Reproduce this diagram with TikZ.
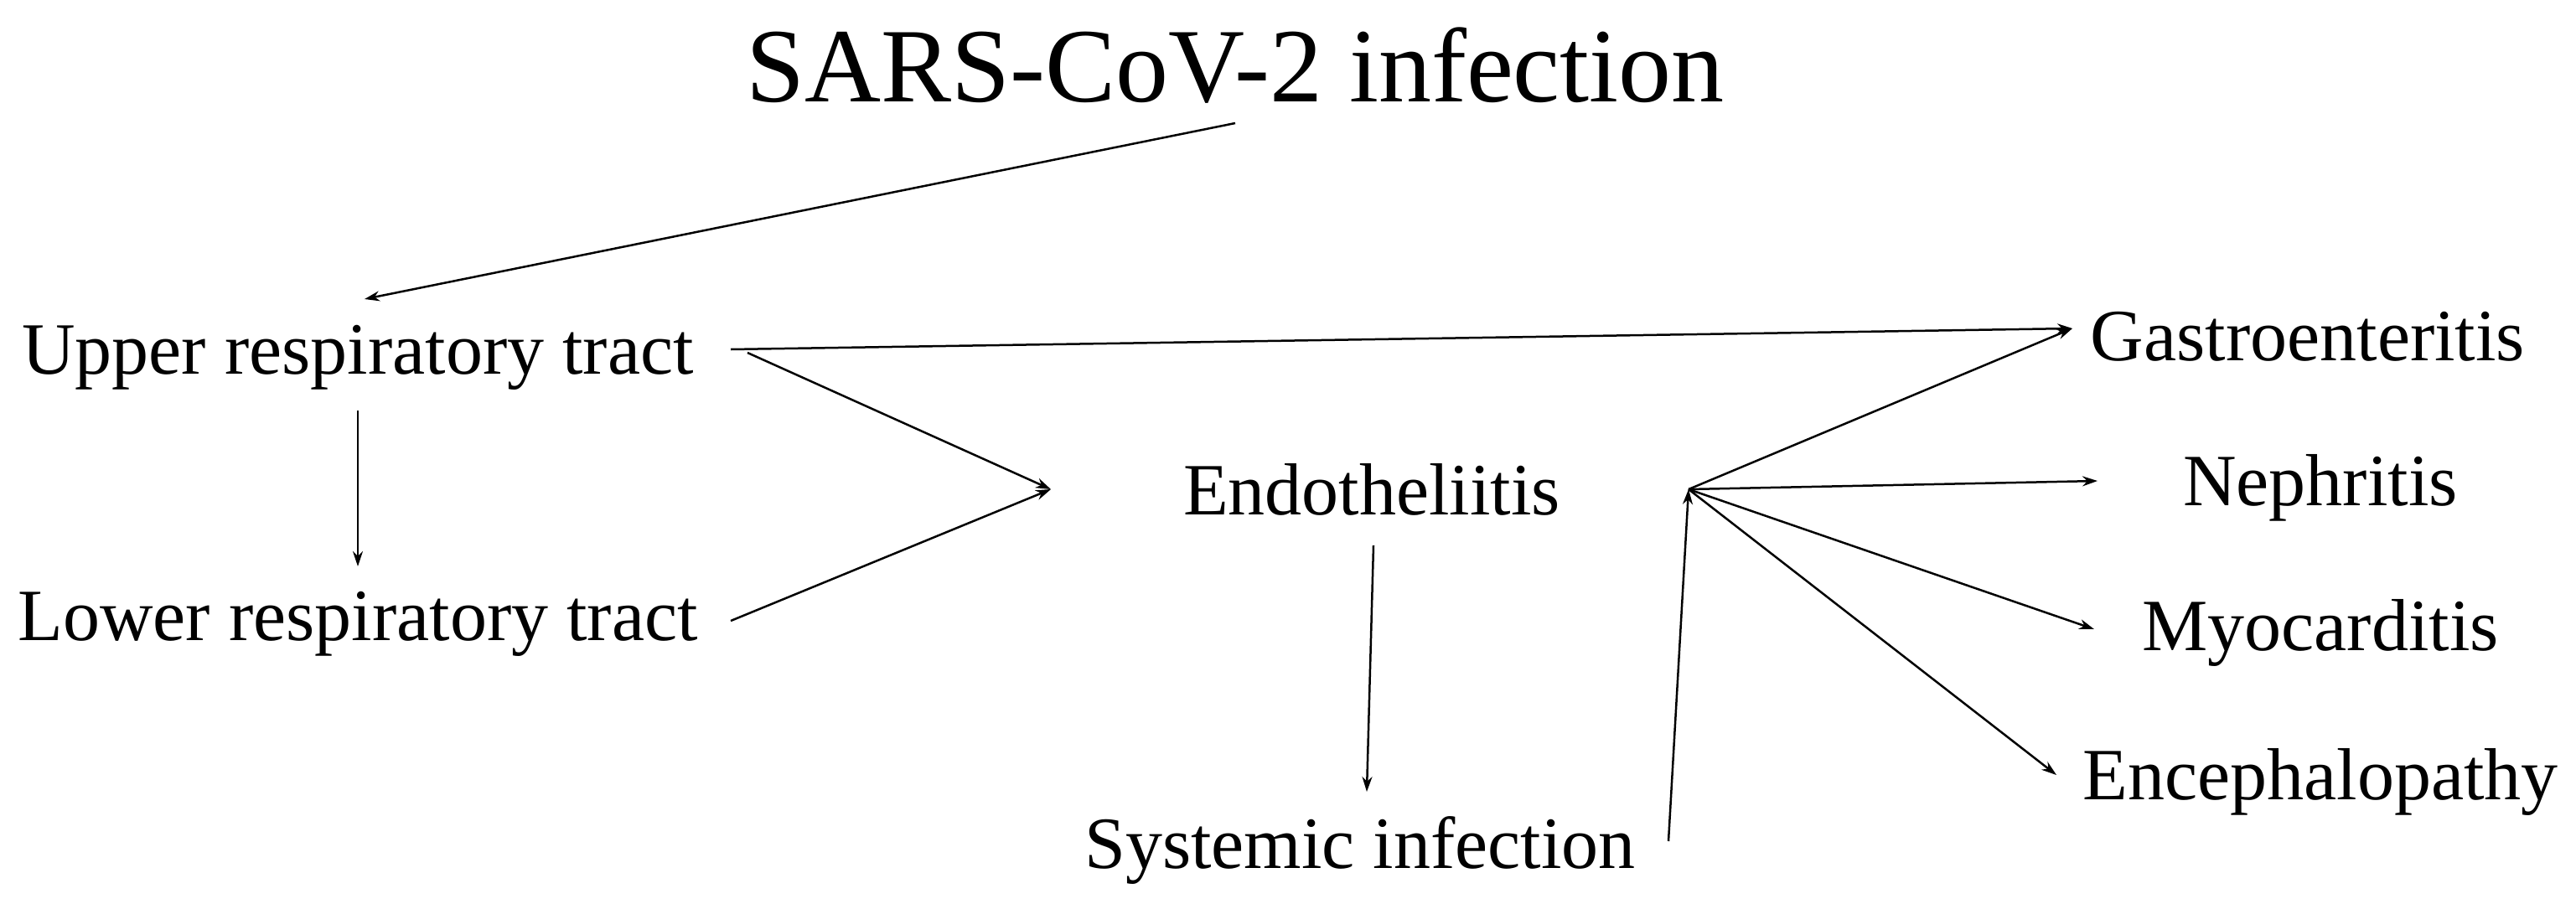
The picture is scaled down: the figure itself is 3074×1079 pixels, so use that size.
\documentclass[tikz,border=0pt]{standalone}
\usepackage{fontspec}
\setmainfont{Liberation Serif}
\usetikzlibrary{arrows.meta}
\begin{document}
\begin{tikzpicture}[x=1pt,y=-1pt,
  lbl/.style={inner sep=0pt,font=\fontsize{88}{96}\selectfont},
  arr/.style={line width=2.5pt,-{Stealth[length=18pt,width=12pt]}}]
\useasboundingbox (0,0) rectangle (3074,1079);
\node[inner sep=0pt,font=\fontsize{126}{136}\selectfont] (title) at (1474,78) {SARS-CoV-2 infection};
\node[lbl] (upper) at (427,427) {Upper respiratory tract};
\node[lbl] (lower) at (427,745) {Lower respiratory tract};
\node[lbl] (endo) at (1637,584) {Endotheliitis};
\node[lbl] (sys) at (1623,1015) {Systemic infection};
\node[lbl] (gastro) at (2754,402) {Gastroenteritis};
\node[lbl] (neph) at (2769,582) {Nephritis};
\node[lbl] (myo) at (2769,755) {Myocarditis};
\node[lbl] (ence) at (2769,933) {Encephalopathy};
\coordinate (t1) at (1474,147); \coordinate (t2) at (435,357);
\coordinate (u1) at (427,490); \coordinate (l1) at (427,676);
\coordinate (ug) at (872,417); \coordinate (g1) at (2473,392);
\coordinate (uj) at (892,421); \coordinate (lj) at (872,741);
\coordinate (J1) at (1254,584);
\coordinate (e1) at (1639,651); \coordinate (s1) at (1631,945);
\coordinate (s2) at (1991,1004); \coordinate (J2) at (2015,584);
\coordinate (n1) at (2503,574); \coordinate (m1) at (2499,751); \coordinate (c1) at (2454,925);
\draw[arr] (t1) -- (t2);
\draw[arr] (u1) -- (l1);
\draw[arr] (ug) -- (g1);
\draw[arr] (uj) -- (J1);
\draw[arr] (lj) -- (J1);
\draw[arr] (e1) -- (s1);
\draw[arr] (s2) -- (J2);
\draw[arr] (J2) -- (g1);
\draw[arr] (J2) -- (n1);
\draw[arr] (J2) -- (m1);
\draw[arr] (J2) -- (c1);
\end{tikzpicture}
\end{document}
